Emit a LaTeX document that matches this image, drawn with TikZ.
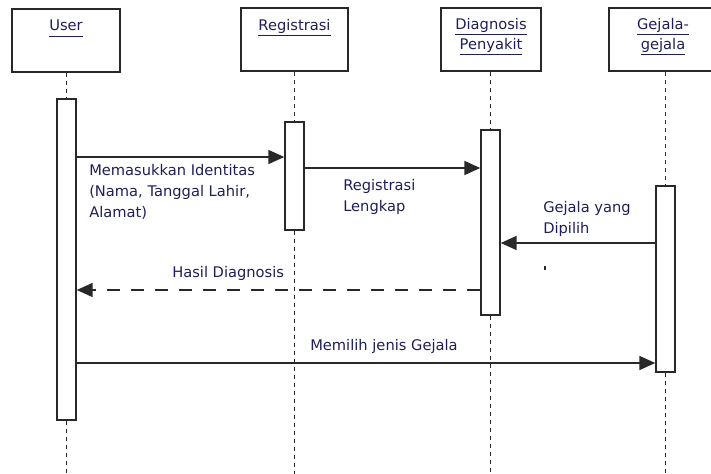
\documentclass[tikz,border=0pt]{standalone}
\usepackage{fontspec}
\setmainfont{DejaVu Sans}
\usetikzlibrary{arrows.meta}

\definecolor{lblblue}{RGB}{30,30,92}
\definecolor{linegray}{RGB}{40,40,40}
\newcommand{\uname}[1]{\underline{#1\vphantom{gy}}}

\tikzset{
  obj/.style={draw=linegray, line width=1.3pt, minimum height=47.25pt, inner sep=0pt},
  actbar/.style={draw=linegray, line width=1.3pt, minimum width=14pt, inner sep=0pt, fill=white},
  life/.style={draw=linegray, line width=1pt, dash pattern=on 3pt off 3pt},
  msg/.style={draw=linegray, line width=1.2pt, -{Triangle[length=12pt,width=10.5pt]}},
  ret/.style={msg, dash pattern=on 10pt off 8pt},
  ttl/.style={anchor=north, inner sep=0pt, align=center, text=lblblue,
    font=\fontsize{11}{15}\selectfont},
  lbl/.style={anchor=north west, inner sep=0pt, align=left, text=lblblue,
    font=\fontsize{11}{15.75}\selectfont}
}

\begin{document}
\begin{tikzpicture}[x=0.75pt,y=0.75pt,yscale=-1,xscale=1]
\useasboundingbox (0,0) rectangle (711,474);
\clip (0,0) rectangle (711,474);

% bottom of the lifelines and heights of the messages
\coordinate (bot) at (0,474);
\coordinate (m1) at (0,157);
\coordinate (m2) at (0,168);
\coordinate (m3) at (0,243);
\coordinate (m4) at (0,290);
\coordinate (m5) at (0,363);

%Shape: Rectangle [objects]
\node [obj, minimum width=81pt] (user) at (66,40.5) {};
\node [obj, minimum width=80.25pt] (reg) at (294.5,39.5) {};
\node [obj, minimum width=75pt] (diag) at (491,39.5) {};
\node [obj, minimum width=85.5pt] (gej) at (666,39.5) {};

% Text Node
\node [ttl] (usert) at (66,20) {\uname{User}};
% Text Node
\node [ttl] (regt) at (294.5,19) {\uname{Registrasi}};
% Text Node
\node [ttl] (diagt) at (491,18) {\uname{Diagnosis}\\\uname{Penyakit}};
% Text Node
\node [ttl] (gejt) at (663,18) {\uname{Gejala-}\\\uname{gejala}};

%Shape: Rectangle [activation bars]
\node [actbar, minimum height=240.75pt] (userbar) at (66.5,259.5) {};
\node [actbar, minimum height=81pt] (regbar) at (294.5,176) {};
\node [actbar, minimum height=138.75pt] (diagbar) at (490.5,222.5) {};
\node [actbar, minimum height=139.5pt] (gejbar) at (665.5,279) {};

%Lifelines
\draw [life] (userbar.north |- user.south) -- (userbar.north);
\draw [life] (userbar.south) -- (userbar.south |- bot);
\draw [life] (regbar.north |- reg.south) -- (regbar.north);
\draw [life] (regbar.south) -- (regbar.south |- bot);
\draw [life] (diagbar.north |- diag.south) -- (diagbar.north);
\draw [life] (diagbar.south) -- (diagbar.south |- bot);
\draw [life] (gejbar.north |- gej.south) -- (gejbar.north);
\draw [life] (gejbar.south) -- (gejbar.south |- bot);

%Straight Lines [messages]
\draw [msg] (userbar.east |- m1) -- (regbar.west |- m1);
\draw [msg] (regbar.east |- m2) -- (diagbar.west |- m2);
\draw [msg] (gejbar.west |- m3) -- (diagbar.east |- m3);
\draw [ret] (diagbar.west |- m4) -- (userbar.east |- m4);
\draw [msg] (userbar.east |- m5) -- (gejbar.west |- m5);

% Text Node
\node [lbl] (identitas) at (89,164.5) {Memasukkan Identitas\\(Nama, Tanggal Lahir,\\Alamat)};
% Text Node
\node [lbl] (lengkap) at (343,179.5) {Registrasi\\Lengkap};
% Text Node
\node [lbl] (dipilih) at (543,201.5) {Gejala yang\\Dipilih};
% Text Node
\node [lbl] (hasil) at (172,266) {Hasil Diagnosis};
% Text Node
\node [lbl] (memilih) at (310,339) {Memilih jenis Gejala};

% stray mark
\draw [linegray, line width=1pt] (545,266.5) -- (545,270.5);

\end{tikzpicture}
\end{document}
